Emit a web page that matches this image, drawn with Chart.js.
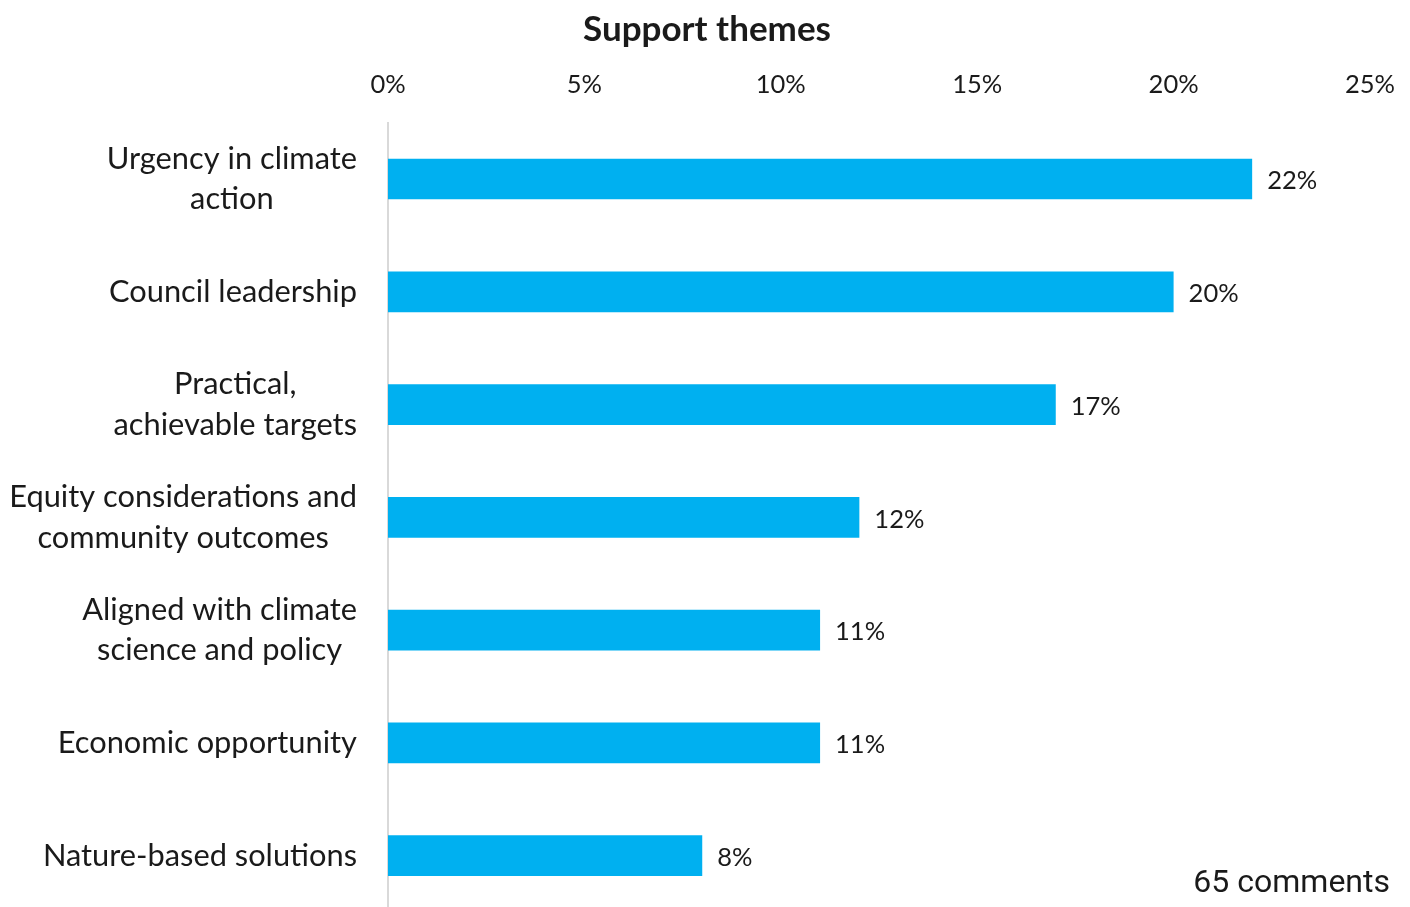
<!DOCTYPE html>
<html>
<head>
<meta charset="utf-8">
<script src="https://cdn.jsdelivr.net/npm/chart.js@4"></script>
<style>
  html, body { margin: 0; padding: 0; background: #fff; overflow: hidden; }
  #wrap { width: 1410px; height: 907px; overflow: hidden; }
</style>
</head>
<body>
<div id="wrap"><canvas id="chart" width="1410" height="912"></canvas></div>
<script>
// Share of comments per support theme (percent)
const categories = [
  ["Urgency in climate", "action"],
  ["Council leadership"],
  ["Practical,", "achievable targets"],
  ["Equity considerations and", "community outcomes"],
  ["Aligned with climate", "science and policy"],
  ["Economic opportunity"],
  ["Nature-based solutions"]
];
const shares = [22, 20, 17, 12, 11, 11, 8];
const axisTicks = [0, 5, 10, 15, 20, 25];
const chartTitle = "Support themes";
const footNote = "65 comments";

const BAR_COLOR = "#00B0F0";
const TEXT_COLOR = "#1a1a1a";
const LABEL_FONT = "Lato, 'Open Sans', sans-serif";

// Title centred over the full canvas width
const titleText = {
  id: "titleText",
  afterDraw(chart) {
    const ctx = chart.ctx;
    ctx.save();
    ctx.font = "bold 35px " + LABEL_FONT;
    ctx.fillStyle = TEXT_COLOR;
    ctx.textAlign = "center";
    ctx.textBaseline = "middle";
    ctx.fillText(chartTitle, chart.width / 2 + 2, 30);
    ctx.restore();
  }
};

// Multi-line category names: each block right-aligned to the axis, lines centred within it
const categoryLabels = {
  id: "categoryLabels",
  afterDraw(chart) {
    const ctx = chart.ctx;
    const y = chart.scales.y;
    const rightEdge = y.right - 31;
    const lineH = 40.5;
    ctx.save();
    ctx.font = "30.8px " + LABEL_FONT;
    ctx.fillStyle = TEXT_COLOR;
    ctx.textAlign = "center";
    ctx.textBaseline = "middle";
    categories.forEach((lines, i) => {
      const cy = y.getPixelForValue(i);
      const widest = Math.max(...lines.map(l => ctx.measureText(l).width));
      const cx = rightEdge - widest / 2;
      const startY = cy - (lines.length - 1) * lineH / 2;
      lines.forEach((line, k) => ctx.fillText(line, cx, startY + k * lineH));
    });
    ctx.restore();
  }
};

// Value labels just past the end of each bar
const valueLabels = {
  id: "valueLabels",
  afterDatasetsDraw(chart) {
    const ctx = chart.ctx;
    const meta = chart.getDatasetMeta(0);
    ctx.save();
    ctx.font = "25.5px " + LABEL_FONT;
    ctx.fillStyle = TEXT_COLOR;
    ctx.textAlign = "left";
    ctx.textBaseline = "middle";
    meta.data.forEach((bar, i) => {
      ctx.fillText(shares[i] + "%", bar.x + 15, bar.y + 2);
    });
    ctx.restore();
  }
};

// Comment count in the lower right corner
const footNoteText = {
  id: "footNoteText",
  afterDraw(chart) {
    const ctx = chart.ctx;
    ctx.save();
    ctx.font = "32px Roboto, sans-serif";
    ctx.fillStyle = TEXT_COLOR;
    ctx.textAlign = "right";
    ctx.textBaseline = "middle";
    ctx.fillText(footNote, 1390, 884);
    ctx.restore();
  }
};

new Chart(document.getElementById("chart"), {
  type: "bar",
  data: {
    labels: categories.map(c => c.join(" ")),
    datasets: [{
      data: shares,
      backgroundColor: BAR_COLOR,
      borderWidth: 0,
      categoryPercentage: 1,
      barPercentage: 0.36
    }]
  },
  options: {
    indexAxis: "y",
    responsive: false,
    animation: false,
    devicePixelRatio: 1,
    layout: { padding: { left: 0, right: 40, top: 48.4, bottom: 0 } },
    plugins: {
      legend: { display: false },
      tooltip: { enabled: false },
      title: { display: false }
    },
    scales: {
      x: {
        position: "top",
        min: 0,
        max: 25,
        afterBuildTicks(scale) {
          scale.ticks = axisTicks.map(v => ({ value: v }));
        },
        afterFit(scale) {
          scale.height = 122.7 - 48.4;
          scale.paddingLeft = 0;
          scale.paddingRight = 0;
        },
        grid: { display: false, drawTicks: false },
        border: { display: false },
        ticks: {
          color: TEXT_COLOR,
          font: { family: LABEL_FONT, size: 25.5 },
          padding: 23,
          maxRotation: 0,
          callback: v => v + "%"
        }
      },
      y: {
        afterFit(scale) { scale.width = 388; },
        grid: { display: false, drawTicks: false },
        border: { display: true, color: "#D9D9D9", width: 2 },
        ticks: { display: false }
      }
    }
  },
  plugins: [titleText, categoryLabels, valueLabels, footNoteText]
});
</script>
</body>
</html>
